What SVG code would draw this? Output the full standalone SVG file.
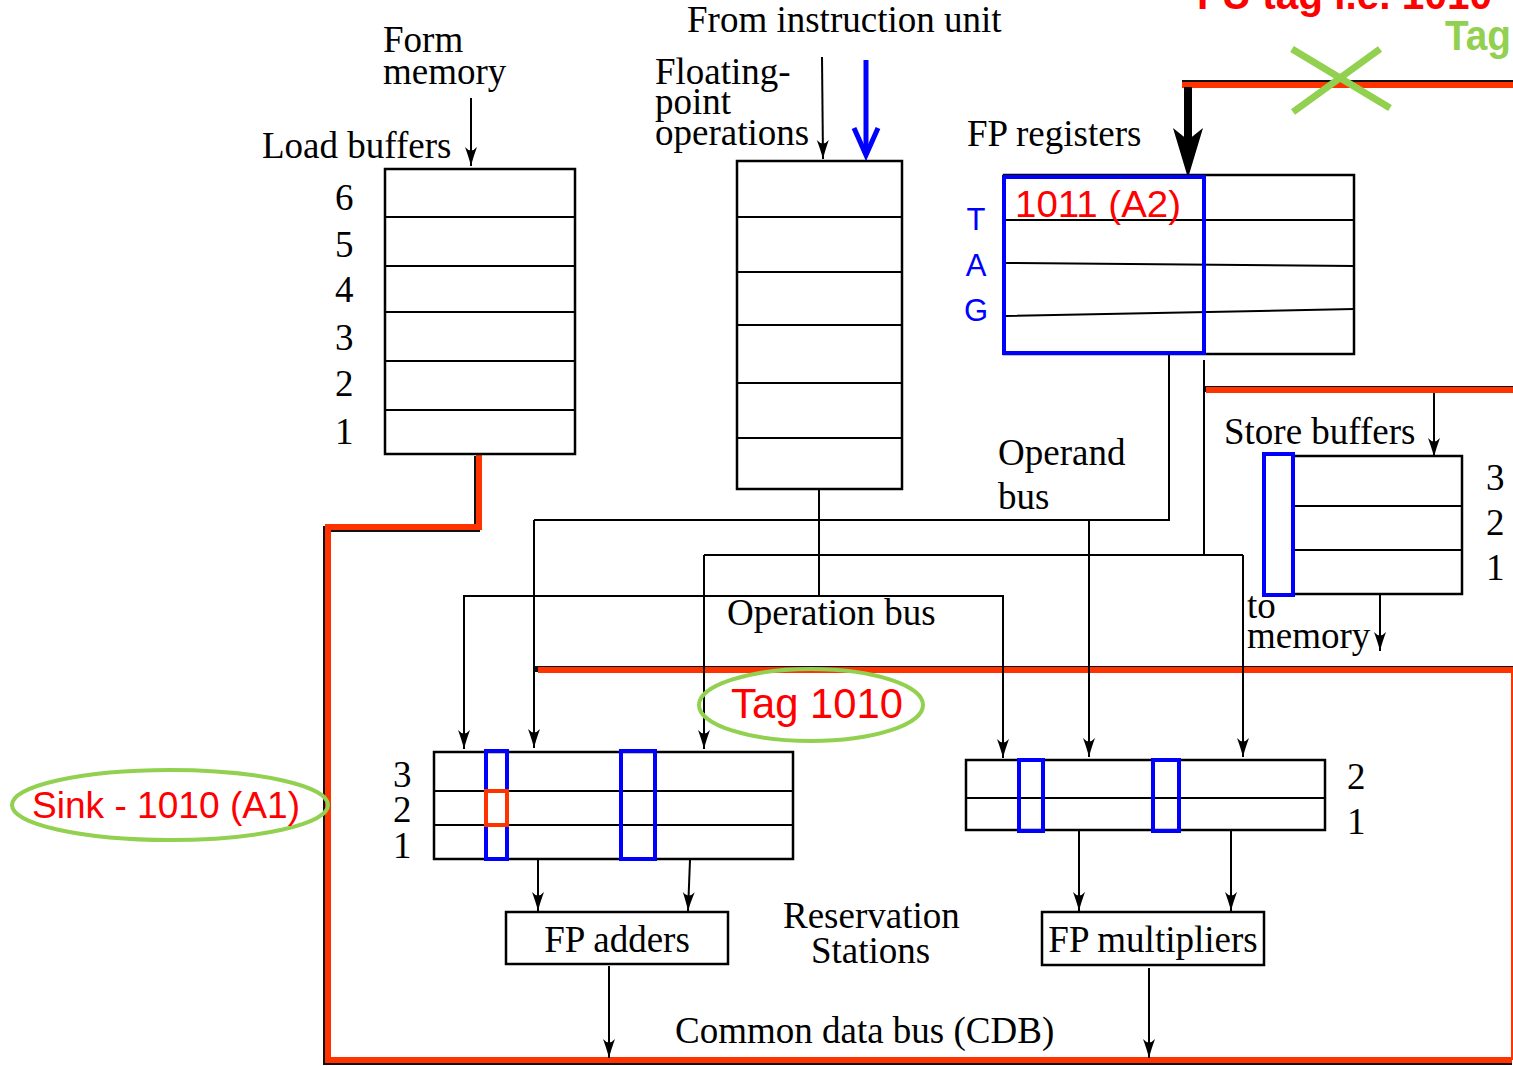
<svg xmlns="http://www.w3.org/2000/svg" width="1513" height="1066" viewBox="0 0 1513 1066">
<defs>
<marker id="arr" viewBox="-20 -7 22 14" refX="0" refY="0" markerWidth="22" markerHeight="14" orient="auto" markerUnits="userSpaceOnUse">
<path d="M-19,-6 Q-8,-2 0,0 Q-8,2 -19,6 Q-12,0 -19,-6 Z" fill="#000"/>
</marker>
<style>
.t{font-family:"Liberation Serif","Times New Roman",serif;font-size:37px;fill:#000}
.c{font-family:"Liberation Sans",Arial,sans-serif;fill:#f00}
.box{fill:#fff;stroke:#000;stroke-width:2.5}
.ln{fill:none;stroke:#000;stroke-width:2}
.ar{fill:none;stroke:#000;stroke-width:2;marker-end:url(#arr)}
.blue{fill:none;stroke:#0000ff;stroke-width:4}
.redb{fill:none;stroke:#ff3300;stroke-width:6}
.blkb{fill:none;stroke:#111;stroke-width:6}
.green{fill:none;stroke:#92d050;stroke-width:4}
</style>
</defs>
<rect width="1513" height="1066" fill="#fff"/>

<!-- red CDB buses -->
<g id="buses">
<path class="blkb" d="M477,456 V529 H326 V1062 H1512"/>
<path class="redb" d="M479,454 V527 H328 V1060 H1512"/>
<line x1="1512" y1="672" x2="1512" y2="1060" stroke="#ff3300" stroke-width="2"/>
<line class="blkb" x1="1182" y1="83" x2="1513" y2="83"/>
<line class="redb" x1="1182" y1="85" x2="1513" y2="85"/>
<line class="blkb" x1="1204" y1="389" x2="1513" y2="389"/>
<line class="redb" x1="1206" y1="390" x2="1513" y2="390"/>
<line class="blkb" x1="534" y1="669" x2="1513" y2="669"/>
<line class="redb" x1="538" y1="670" x2="1513" y2="670"/>
</g>

<!-- connectors -->
<g id="connectors">
<line class="ar" x1="471" y1="98" x2="471" y2="166"/>
<line class="ar" x1="822" y1="57" x2="823" y2="159"/>
<line x1="866" y1="60" x2="866" y2="154" stroke="#0000ff" stroke-width="5"/>
<polyline points="854,128 866,155 878,128" fill="none" stroke="#0000ff" stroke-width="5" stroke-linejoin="miter"/>
<line x1="1188" y1="87" x2="1188" y2="140" stroke="#000" stroke-width="8"/>
<polygon points="1173,128 1188,140 1203,128 1188,178" fill="#000"/>
<!-- operand bus -->
<polyline class="ln" points="1169,354 1169,520 534,520"/>
<line class="ar" x1="534" y1="520" x2="534" y2="748"/>
<line class="ar" x1="1089" y1="520" x2="1089" y2="757"/>
<polyline class="ln" points="1204,360 1204,555 704,555"/>
<line class="ar" x1="704" y1="555" x2="704" y2="749"/>
<polyline class="ln" points="1204,555 1243,555"/>
<line class="ar" x1="1243" y1="555" x2="1243" y2="757"/>
<!-- operation bus -->
<line class="ln" x1="819" y1="489" x2="819" y2="596"/>
<polyline class="ln" points="464,748 464,596 1003,596 1003,757"/>
<line class="ar" x1="464" y1="596" x2="464" y2="749"/>
<line class="ar" x1="1003" y1="596" x2="1003" y2="758"/>
<!-- store -->
<line class="ar" x1="1434" y1="393" x2="1434" y2="457"/>
<line class="ar" x1="1380" y1="595" x2="1380" y2="651"/>
<!-- RS to units -->
<line class="ar" x1="538" y1="860" x2="538" y2="911"/>
<line class="ar" x1="690" y1="860" x2="688" y2="911"/>
<line class="ar" x1="1079" y1="831" x2="1079" y2="911"/>
<line class="ar" x1="1231" y1="831" x2="1231" y2="911"/>
<line class="ar" x1="609" y1="966" x2="609" y2="1058"/>
<line class="ar" x1="1149" y1="968" x2="1149" y2="1058"/>
</g>

<!-- load buffers -->
<g id="load-buffers">
<rect class="box" x="385" y="169" width="190" height="285"/>
<path class="ln" d="M385,217H575M385,266H575M385,312H575M385,361H575M385,410H575"/>
<text class="t" x="383" y="52">Form</text>
<text class="t" x="383" y="84">memory</text>
<text class="t" x="262" y="158">Load buffers</text>
<text class="t" x="335" y="210">6</text>
<text class="t" x="335" y="257">5</text>
<text class="t" x="335" y="302">4</text>
<text class="t" x="335" y="350">3</text>
<text class="t" x="335" y="396">2</text>
<text class="t" x="335" y="444">1</text>
</g>

<!-- instruction queue -->
<g id="fp-op-queue">
<rect class="box" x="737" y="161" width="165" height="328"/>
<path class="ln" d="M737,217H902M737,272H902M737,325H902M737,383H902M737,438H902"/>
<text class="t" x="687" y="32">From instruction unit</text>
<text class="t" x="655" y="84">Floating-</text>
<text class="t" x="655" y="114">point</text>
<text class="t" x="655" y="145">operations</text>
</g>

<!-- FP registers -->
<g id="fp-registers">
<rect class="box" x="1004" y="175" width="350" height="179"/>
<path class="ln" d="M1004,220H1354M1004,263L1354,266M1004,316L1354,309"/>
<rect class="blue" x="1004" y="177" width="200" height="176"/>
<text class="t" x="967" y="146">FP registers</text>
<text class="c" x="1015" y="217" font-size="36" textLength="166" lengthAdjust="spacingAndGlyphs">1011 (A2)</text>
<text x="976" y="230" font-family="Liberation Sans,Arial,sans-serif" font-size="31" fill="#0000ff" text-anchor="middle">T</text>
<text x="976" y="276" font-family="Liberation Sans,Arial,sans-serif" font-size="31" fill="#0000ff" text-anchor="middle">A</text>
<text x="976" y="321" font-family="Liberation Sans,Arial,sans-serif" font-size="31" fill="#0000ff" text-anchor="middle">G</text>
</g>

<!-- annotations top right -->
<g id="fu-tag">
<text x="1197" y="9" font-family="Liberation Sans,Arial,sans-serif" font-weight="bold" font-size="40" fill="#f00" textLength="295" lengthAdjust="spacingAndGlyphs">FU tag i.e. 1010</text>
<text x="1445" y="50" font-family="Liberation Sans,Arial,sans-serif" font-weight="bold" font-size="42" fill="#92d050" textLength="66" lengthAdjust="spacingAndGlyphs">Tag</text>
<path d="M1292,49L1390,108M1380,49L1293,112" stroke="#92d050" stroke-width="7" fill="none"/>
</g>

<g id="operand-bus-label">
<text class="t" x="998" y="465">Operand</text>
<text class="t" x="998" y="509">bus</text>
</g>
<g id="operation-bus-label">
<text class="t" x="727" y="625">Operation bus</text>
</g>

<!-- store buffers -->
<g id="store-buffers">
<rect class="box" x="1293" y="456" width="169" height="138"/>
<path class="ln" d="M1293,506H1462M1293,550H1462"/>
<rect class="blue" x="1264" y="454" width="29" height="141"/>
<text class="t" x="1224" y="444">Store buffers</text>
<text class="t" x="1486" y="490">3</text>
<text class="t" x="1486" y="535">2</text>
<text class="t" x="1486" y="580">1</text>
<text class="t" x="1247" y="618">to</text>
<text class="t" x="1247" y="648">memory</text>
</g>

<!-- tag 1010 ellipse -->
<g id="tag-1010">
<ellipse class="green" cx="811" cy="705" rx="112" ry="36"/>
<text class="c" x="731" y="718" font-size="42" textLength="172" lengthAdjust="spacingAndGlyphs">Tag 1010</text>
</g>

<!-- sink ellipse -->
<g id="sink">
<ellipse class="green" cx="170" cy="805" rx="158" ry="35"/>
<text class="c" x="32" y="818" font-size="36" textLength="268" lengthAdjust="spacingAndGlyphs">Sink - 1010 (A1)</text>
</g>

<!-- adder reservation stations -->
<g id="adder-rs">
<rect class="box" x="434" y="752" width="359" height="107"/>
<path class="ln" d="M434,791H793M434,825H793"/>
<rect class="blue" x="486" y="751" width="21" height="108"/>
<rect class="blue" x="621" y="751" width="34" height="108"/>
<rect x="486" y="791" width="21" height="34" fill="none" stroke="#ff3300" stroke-width="4"/>
<text class="t" x="393" y="787">3</text>
<text class="t" x="393" y="822">2</text>
<text class="t" x="393" y="858">1</text>
</g>

<g id="fp-adders">
<rect class="box" x="506" y="912" width="222" height="52"/>
<text class="t" x="617" y="952" text-anchor="middle">FP adders</text>
</g>

<!-- multiplier reservation stations -->
<g id="mult-rs">
<rect class="box" x="966" y="760" width="359" height="70"/>
<path class="ln" d="M966,798H1325"/>
<rect class="blue" x="1019" y="760" width="24" height="71"/>
<rect class="blue" x="1153" y="760" width="26" height="71"/>
<text class="t" x="1347" y="789">2</text>
<text class="t" x="1347" y="834">1</text>
</g>

<g id="fp-multipliers">
<rect class="box" x="1042" y="912" width="222" height="53"/>
<text class="t" x="1153" y="952" text-anchor="middle">FP multipliers</text>
</g>

<g id="labels">
<text class="t" x="783" y="928">Reservation</text>
<text class="t" x="811" y="963">Stations</text>
<text class="t" x="675" y="1043">Common data bus (CDB)</text>
</g>
</svg>
